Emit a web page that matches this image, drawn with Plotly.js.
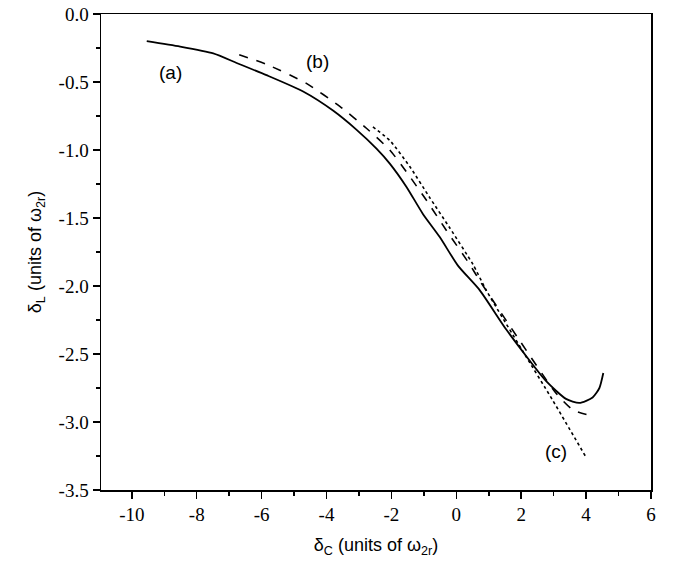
<!DOCTYPE html>
<html>
<head>
<meta charset="utf-8">
<script src="https://cdn.plot.ly/plotly-3.0.1.min.js"></script>
<style>body{margin:0;background:#fff}#graph{width:678px;height:574px}</style>
</head>
<body>
<div id="graph"></div>
<script>
// curve (a): solid
const a_x = [-9.54, -8.51, -7.49, -6.77, -5.85, -4.72, -3.80, -3.08, -2.46, -2.05, -1.54, -1.03, -0.51, 0.05, 0.72, 1.54, 2.77, 3.38, 3.79, 4.20, 4.41, 4.53];
const a_y = [-0.20, -0.24, -0.29, -0.36, -0.45, -0.57, -0.71, -0.85, -0.99, -1.10, -1.27, -1.47, -1.64, -1.85, -2.03, -2.32, -2.70, -2.83, -2.86, -2.82, -2.75, -2.64];
// curve (b): dashed
const b_x = [-6.69, -5.85, -4.62, -3.59, -2.77, -2.05, -1.54, -0.92, -0.31, 0.41, 0.72, 1.95, 3.08, 3.59, 4.10];
const b_y = [-0.30, -0.37, -0.51, -0.68, -0.84, -1.00, -1.16, -1.37, -1.59, -1.84, -1.96, -2.40, -2.79, -2.91, -2.95];
// curve (c): dotted
const c_x = [-2.57, -2.05, -1.44, -0.82, -0.21, 0.51, 0.92, 2.05, 2.97, 4.0];
const c_y = [-0.83, -0.93, -1.12, -1.35, -1.57, -1.84, -2.03, -2.48, -2.84, -3.26];
const labels = ["(a)", "(b)", "(c)"];
const label_x = [-8.8, -4.27, 3.08];
const label_y = [-0.43, -0.35, -3.22];
const x_ticks = [-10, -8, -6, -4, -2, 0, 2, 4, 6];
const y_ticks = [0, -0.5, -1, -1.5, -2, -2.5, -3, -3.5];

const line = (x, y, dash, w) => ({x: x, y: y, mode: "lines", line: {color: "#000", width: w, dash: dash, shape: "spline", smoothing: 0.6}, hoverinfo: "skip"});
const traces = [line(a_x, a_y, "solid", 1.8), line(b_x, b_y, "dash", 1.6), line(c_x, c_y, "dot", 1.6)];

const axis_common = {showline: true, linecolor: "#000", linewidth: 1.5, mirror: true, ticks: "outside", ticklen: 7, tickwidth: 1.5, tickcolor: "#000",
    showgrid: false, zeroline: false, tickfont: {family: "Liberation Serif", size: 19, color: "#000"}};
const layout = {
    width: 678, height: 574, margin: {l: 101, r: 27, t: 14, b: 84}, showlegend: false,
    paper_bgcolor: "#fff", plot_bgcolor: "#fff",
    xaxis: Object.assign({}, axis_common, {range: [-10.95, 6], tickvals: x_ticks, ticktext: x_ticks.map(String),
        minor: {dtick: 1, tick0: 0, ticks: "outside", ticklen: 4, tickwidth: 1.5, tickcolor: "#000"},
        title: {text: "δ<sub>C</sub> (units of ω<sub>2r</sub>)", font: {family: "Liberation Sans", size: 18, color: "#000"}, standoff: 14}}),
    yaxis: Object.assign({}, axis_common, {range: [-3.5, 0], tickvals: y_ticks, ticktext: y_ticks.map(v => v.toFixed(1)),
        minor: {dtick: 0.25, ticks: "outside", ticklen: 4, tickwidth: 1.5, tickcolor: "#000"},
        title: {text: "δ<sub>L</sub> (units of ω<sub>2r</sub>)", font: {family: "Liberation Sans", size: 18, color: "#000"}, standoff: 12}}),
    annotations: labels.map((t, i) => ({x: label_x[i], y: label_y[i], text: t, showarrow: false, font: {family: "Liberation Sans", size: 19, color: "#000"}}))
};
Plotly.newPlot("graph", traces, layout, {displayModeBar: false, staticPlot: true});
</script>
</body>
</html>
